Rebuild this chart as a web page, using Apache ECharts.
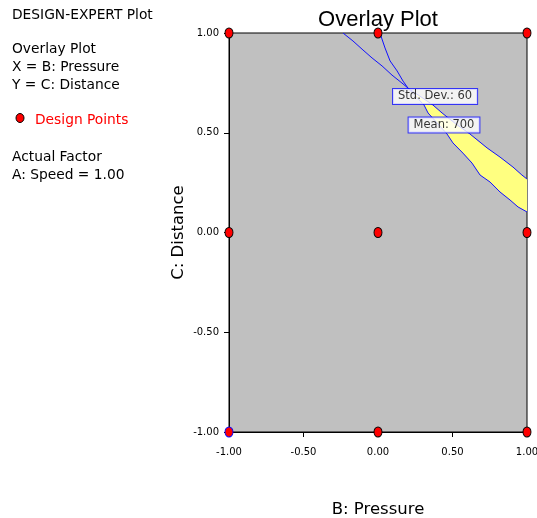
<!DOCTYPE html>
<html>
<head>
<meta charset="utf-8">
<script src="https://cdn.jsdelivr.net/npm/echarts@6/dist/echarts.min.js"></script>
<style>
html,body{margin:0;padding:0;background:#fff;}
#chart{width:537px;height:518px;}
</style>
</head>
<body>
<div id="chart"></div>
<script>
// ---- data ----
const axisTicks = [-1.0, -0.5, 0.0, 0.5, 1.0];
// Std. Dev. = 60 contour
const sdX = [-0.235, -0.168, -0.101, -0.040, 0.027, 0.094, 0.161, 0.201, 0.369, 0.430, 0.523, 0.617, 0.732, 0.819, 0.906, 0.966, 1.000];
const sdY = [ 1.000,  0.960,  0.915,  0.875, 0.835, 0.789, 0.749, 0.724, 0.639, 0.599, 0.544, 0.494, 0.424, 0.378, 0.328, 0.288, 0.268];
// Mean = 700 contour
const meanX = [0.013, 0.047, 0.081, 0.128, 0.168, 0.201, 0.309, 0.336, 0.403, 0.463, 0.503, 0.570, 0.631, 0.685, 0.752, 0.819, 0.886, 0.940, 1.000];
const meanY = [1.000, 0.925, 0.860, 0.810, 0.759, 0.724, 0.639, 0.599, 0.544, 0.494, 0.449, 0.398, 0.348, 0.288, 0.253, 0.203, 0.163, 0.128, 0.103];
const crossSd = 7, crossMean = 5; // index of the intersection in each contour
// design points
const designX = [-1, 0, 1, -1, 0, 1, -1, 0, 1];
const designY = [ 1, 1, 1,  0, 0, 0, -1, -1, -1];
// contour labels (anchor in data coords)
const contourLabels = [
  {text: 'Std. Dev.: 60', x: 0.383, y: 0.682},
  {text: 'Mean: 700', x: 0.443, y: 0.539}
];
const infoLines = [
  {text: 'DESIGN-EXPERT Plot', top: 8},
  {text: 'Overlay Plot', top: 42},
  {text: 'X = B: Pressure', top: 60},
  {text: 'Y = C: Distance', top: 78},
  {text: 'Actual Factor', top: 150},
  {text: 'A: Speed = 1.00', top: 168}
];

const FONT = '"DejaVu Sans", Verdana, sans-serif';
const TFONT = '"Liberation Sans", Arial, sans-serif';
const chart = echarts.init(document.getElementById('chart'), null, {renderer: 'canvas'});

const sdData = sdX.map((x, i) => [x, sdY[i]]);
const meanData = meanX.map((x, i) => [x, meanY[i]]);

const graphics = [];
infoLines.forEach(l => {
  graphics.push({type: 'text', left: 12, top: l.top,
    style: {text: l.text, fill: '#000', font: '13.8px ' + FONT}});
});
graphics.push({type: 'ellipse', shape: {cx: 20, cy: 118, rx: 4, ry: 4.5},
  style: {fill: '#ff0000', stroke: '#000', lineWidth: 1}});
graphics.push({type: 'text', left: 35, top: 113,
  style: {text: 'Design Points', fill: '#ff0000', font: '13.8px ' + FONT}});

const option = {
  animation: false,
  backgroundColor: '#fff',
  title: {
    text: 'Overlay Plot', left: 373, top: 4, textAlign: 'center',
    textStyle: {fontFamily: TFONT, fontSize: 22, fontWeight: 'normal', color: '#000'}
  },
  graphic: graphics,
  grid: {
    left: 229, top: 33, width: 298, height: 399,
    outerBoundsMode: 'none', containLabel: false,
    show: true, backgroundColor: '#c0c0c0', borderColor: '#000', borderWidth: 1
  },
  xAxis: {
    type: 'value', min: -1, max: 1, interval: 0.5,
    name: 'B: Pressure', nameLocation: 'middle', nameGap: 69, nameMoveOverlap: false,
    nameTextStyle: {fontFamily: FONT, fontSize: 16.5, color: '#000'},
    axisLine: {show: true, onZero: false, lineStyle: {color: '#000', width: 1}},
    axisTick: {show: true, length: 5, lineStyle: {color: '#000'}},
    splitLine: {show: false},
    axisLabel: {fontFamily: FONT, fontSize: 10, color: '#000', margin: 15,
      formatter: v => v.toFixed(2)}
  },
  yAxis: {
    type: 'value', min: -1, max: 1, interval: 0.5,
    name: 'C: Distance', nameLocation: 'middle', nameGap: 42, nameRotate: 90, nameMoveOverlap: false,
    nameTextStyle: {fontFamily: FONT, fontSize: 16.5, color: '#000'},
    axisLine: {show: true, onZero: false, lineStyle: {color: '#000', width: 1}},
    axisTick: {show: true, length: 5, lineStyle: {color: '#000'}},
    splitLine: {show: false},
    axisLabel: {fontFamily: FONT, fontSize: 10, color: '#000', margin: 10,
      formatter: v => v.toFixed(2)}
  },
  series: [
    {
      type: 'custom', z: 1, silent: true,
      data: [[0, 0]],
      renderItem: function (params, api) {
        const pts = [];
        for (let i = crossSd; i < sdX.length; i++) pts.push(api.coord([sdX[i], sdY[i]]));
        for (let i = meanX.length - 1; i >= crossMean; i--) pts.push(api.coord([meanX[i], meanY[i]]));
        return {type: 'polygon', shape: {points: pts}, style: {fill: '#ffff80', stroke: 'none'}};
      }
    },
    {
      type: 'line', z: 2, data: sdData, showSymbol: false, symbol: 'none',
      lineStyle: {color: '#1010ff', width: 1}
    },
    {
      type: 'line', z: 2, data: meanData, showSymbol: false, symbol: 'none',
      lineStyle: {color: '#1010ff', width: 1}
    },
    {
      type: 'scatter', z: 3, symbolSize: 0,
      data: contourLabels.map(l => ({value: [l.x, l.y], name: l.text})),
      label: {
        show: true, position: 'inside', formatter: p => p.name,
        fontFamily: FONT, fontSize: 11.5, color: '#000',
        backgroundColor: '#fff', borderColor: '#1010ff', borderWidth: 1,
        padding: [2, 5, 1, 5]
      }
    },
    {
      type: 'scatter', z: 5, clip: false, symbol: 'circle', symbolSize: [8, 10],
      data: designX.map((x, i) => ({
        value: [x, designY[i]],
        itemStyle: {borderColor: (x === -1 && designY[i] === -1) ? '#0000ff' : '#000'}
      })),
      itemStyle: {color: '#ff0000', borderWidth: 1, opacity: 1}
    }
  ]
};
chart.setOption(option);
</script>
</body>
</html>
